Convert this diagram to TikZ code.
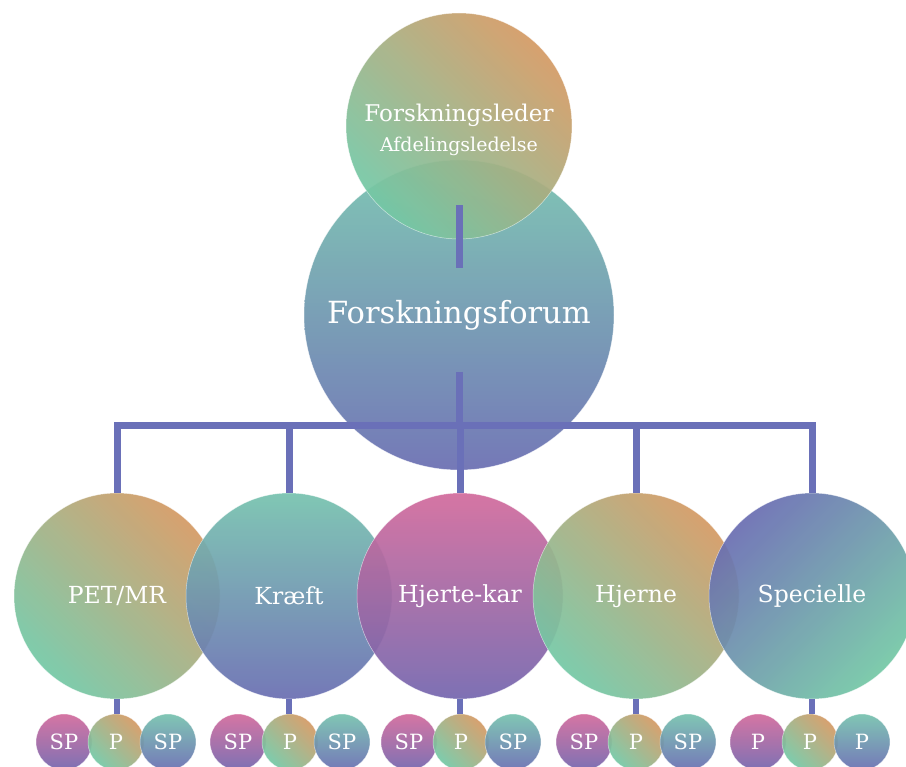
\documentclass[tikz,border=0pt]{standalone}
\usepackage{fontspec}
\setmainfont{DejaVu Serif}
\usetikzlibrary{positioning}

% Colours of the diagram.
\definecolor{orng}{HTML}{D49A64}
\definecolor{grn}{HTML}{74C8A6}
\definecolor{teal}{HTML}{76C2AE}
\definecolor{blu}{HTML}{6A6EB2}
\definecolor{pnk}{HTML}{D26A9C}
\definecolor{purp}{HTML}{7466AE}
\definecolor{linkblue}{HTML}{6A70B8}

\tikzset{
    blob/.style={%
        circle, inner sep = 0pt, minimum size = #1,
        fill opacity = 0.93, text opacity = 1, text = white,
        draw = white, draw opacity = 0.6, line width = 0.5pt
    },
    diag/.style={top color = orng, bottom color = grn, shading angle = -45},
    tealblue/.style={top color = teal, bottom color = blu},
    pinkpurp/.style={top color = pnk, bottom color = purp},
    bluegreen/.style={top color = blu, bottom color = grn, shading angle = 45},
    link/.style={draw = linkblue, line width = 7pt, line join = miter}
}

\begin{document}
\begin{tikzpicture}[x=1pt, y=1pt]

        % Fix the page to the size of the reference.
        \useasboundingbox (0, 0) rectangle (906, -767);

        % Large circle in the middle.
        \node[blob = 310pt, tealblue] (forum) at (459, -315)
            {\fontsize{30.5}{34}\selectfont Forskningsforum};

        % Top circle, drawn over the large one.
        \node[blob = 226pt, diag] (leder) at (459, -126) {};
        \node[text = white, inner sep = 0pt, align = center] (ledertext)
            at ([yshift = -4]leder.center)
            {\fontsize{23}{26}\selectfont Forskningsleder\\[9pt]
             \fontsize{19}{22}\selectfont Afdelingsledelse};

        % The five research areas.
        \node[blob = 206pt, diag] (pet) at (117, -596)
            {\fontsize{23.5}{26}\selectfont PET/MR};
        \node[blob = 206pt, tealblue] (kraeft) at (289, -596)
            {\fontsize{23.5}{26}\selectfont Kræft};
        \node[blob = 206pt, pinkpurp] (hjerte) at (460, -596)
            {\fontsize{23.5}{26}\selectfont Hjerte-kar};
        \node[blob = 206pt, diag] (hjerne) at (636, -596)
            {\fontsize{23.5}{26}\selectfont Hjerne};
        \node[blob = 206pt, bluegreen] (spec) at (812, -596)
            {\fontsize{23.5}{26}\selectfont Specielle};

        % Small circles below each area.
        \foreach \area/\xc/\la/\lc in {pet/116/SP/SP, kraeft/290/SP/SP,
                hjerte/461/SP/SP, hjerne/636/SP/SP, spec/810/P/P} {
            \node[blob = 56pt, pinkpurp] (\area-a) at (\xc - 52, -742)
                {\fontsize{21}{24}\selectfont \la};
            \node[blob = 56pt, diag] (\area-b) at (\xc, -742)
                {\fontsize{21}{24}\selectfont P};
            \node[blob = 56pt, tealblue] (\area-c) at (\xc + 52, -742)
                {\fontsize{21}{24}\selectfont \lc};
        }

        % Connectors.
        \coordinate (bus) at (460, -425.5);
        \draw[link] ([yshift = 34]leder.south) -- ([yshift = -108]forum.north);
        \draw[link] ([yshift = -57]forum.center) -- (forum.center |- bus);
        \draw[link] (pet.north) -- (pet.north |- bus) -| (spec.north);
        \foreach \area in {kraeft, hjerte, hjerne}
            \draw[link] (\area.north) -- (\area.north |- bus);
        \foreach \area in {pet, kraeft, hjerte, hjerne, spec}
            \draw[link, line width = 6pt] (\area.south) -- (\area.south |- \area-b.north);
    \end{tikzpicture}
\end{document}
